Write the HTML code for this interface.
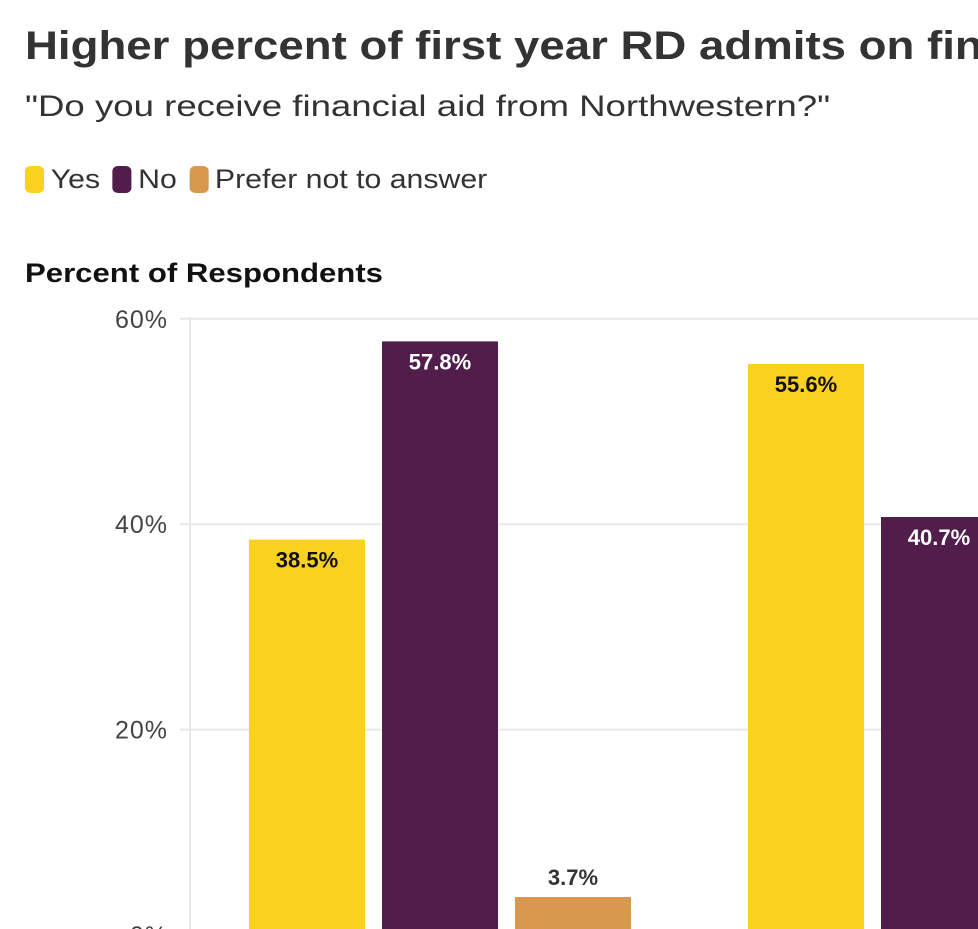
<!DOCTYPE html>
<html><head><meta charset="utf-8"><style>
html,body{margin:0;padding:0;background:#fff;width:978px;height:929px;overflow:hidden;font-family:"Liberation Sans",sans-serif;color:#333}
#title{position:absolute;left:25px;top:24px;font-size:40px;font-weight:bold;white-space:nowrap;color:#333;transform:scaleX(1.14);transform-origin:0 0}
#titlewrap{position:absolute;left:0;top:0;width:978px;height:80px;overflow:hidden}
#sub{position:absolute;left:25px;top:90px;font-size:30px;white-space:nowrap;color:#333;transform:scaleX(1.22);transform-origin:0 0}
#legend{position:absolute;left:25px;top:164px;font-size:27px;white-space:nowrap;display:flex;align-items:center;transform:scaleX(1.12);transform-origin:0 0}
.sw{display:inline-block;width:17px;height:27px;border-radius:5px;margin-right:6px}
.lt{margin-right:11px}
svg{position:absolute;left:0;top:0}
</style></head><body>
<div id="titlewrap"><div id="title">Higher percent of first year RD admits on financial aid</div></div>
<div id="sub">"Do you receive financial aid from Northwestern?"</div>
<div id="legend">
<span class="sw" style="background:#fbd11f"></span><span class="lt">Yes</span>
<span class="sw" style="background:#511e4c"></span><span class="lt">No</span>
<span class="sw" style="background:#d7994d"></span><span class="lt">Prefer not to answer</span>
</div>
<svg id="chart" width="978" height="929"></svg>
<script>
const categories=["Group A","Group B"];
const yesValues=[38.5,55.6];
const noValues=[57.8,40.7];
const preferValues=[3.7,3.7];
const tickValues=[0,20,40,60];
const tickLabels=["0%","20%","40%","60%"];
const NS="http://www.w3.org/2000/svg";
const svg=document.getElementById('chart');
const y0=935,pxPer=10.27;
function y(v){return y0-v*pxPer;}
function gx(i){return 249+i*499;}
function mk(tag,attrs){const e=document.createElementNS(NS,tag);for(const k in attrs)e.setAttribute(k,attrs[k]);svg.appendChild(e);return e;}
const at=mk('text',{x:25,y:282,'font-size':27,'font-weight':'bold',fill:'#111',textLength:358,lengthAdjust:'spacingAndGlyphs'});
at.textContent="Percent of Respondents";


tickValues.forEach((t,i)=>{
  const l=mk('line',{x1:180,x2:978,y1:y(t),y2:y(t),stroke:'#e8e8e8','stroke-width':2});
  
  
  const tx=mk('text',{x:168,y:y(t)+9,'font-size':25,'text-anchor':'end',fill:'#444','letter-spacing':1});
  tx.textContent=tickLabels[i];
  
  
});
const ax=mk('line',{x1:190,x2:190,y1:y(60)-2,y2:929,stroke:'#e8e8e8','stroke-width':2});


const series=[{v:yesValues,c:'#fbd11f',t:'#111',n:'yes'},{v:noValues,c:'#511e4c',t:'#fff',n:'no'},{v:preferValues,c:'#d7994d',t:'#333',n:'prefer'}];
categories.forEach((cat,i)=>{
  series.forEach((s,j)=>{
    const x=gx(i)+j*133,val=s.v[i],top=y(val);
    const r=mk('rect',{x:x,y:top,width:116,height:y0-top,fill:s.c});
    
    
    const inside=(y0-top)>50;
    const lb=mk('text',{x:x+58,y:inside?top+28:top-12,'font-size':22,'font-weight':'bold','text-anchor':'middle',fill:inside?s.t:'#333'});
    lb.textContent=val.toFixed(1)+"%";
    
    
  });
});
</script>
</body></html>
